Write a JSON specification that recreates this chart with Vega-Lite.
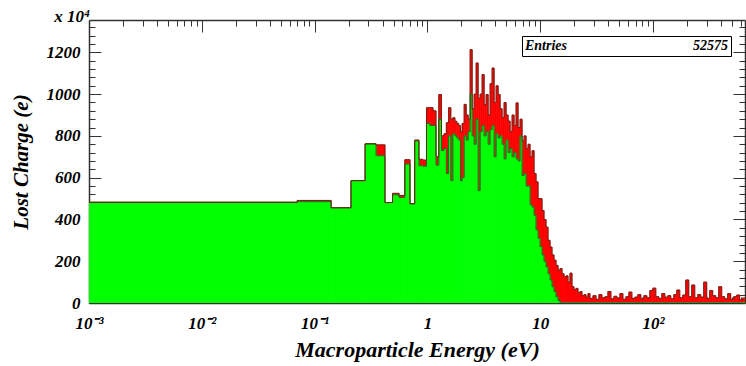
{
  "$schema": "https://vega.github.io/schema/vega-lite/v6.json",
  "width": 656,
  "height": 283,
  "autosize": {"type": "none"},
  "padding": {"left": 89, "top": 20, "right": 1, "bottom": 63},
  "background": "white",
  "title": {"text": "x 10⁴", "anchor": "start", "frame": "group", "align": "right", "dx": 1, "offset": -23, "baseline": "bottom", "font": "Liberation Serif", "fontSize": 17, "fontWeight": "bold", "fontStyle": "italic", "color": "black"},
  "config": {"view": {"stroke": null}},
  "datasets": {
    "hist": [
      {"lo":0.001,"hi":0.07,"g":482,"t":482},
      {"lo":0.07,"hi":0.14,"g":485,"t":491},
      {"lo":0.14,"hi":0.21,"g":456,"t":456},
      {"lo":0.21,"hi":0.28,"g":586,"t":586},
      {"lo":0.28,"hi":0.35,"g":762,"t":762},
      {"lo":0.35,"hi":0.42,"g":705,"t":757},
      {"lo":0.42,"hi":0.49,"g":481,"t":481},
      {"lo":0.49,"hi":0.56,"g":518,"t":525},
      {"lo":0.56,"hi":0.63,"g":505,"t":515},
      {"lo":0.63,"hi":0.70,"g":665,"t":686},
      {"lo":0.70,"hi":0.77,"g":475,"t":475},
      {"lo":0.77,"hi":0.84,"g":776,"t":780},
      {"lo":0.84,"hi":0.91,"g":657,"t":688},
      {"lo":0.91,"hi":0.98,"g":655,"t":684},
      {"lo":0.98,"hi":1.05,"g":860,"t":935},
      {"lo":1.05,"hi":1.12,"g":850,"t":935},
      {"lo":1.12,"hi":1.19,"g":850,"t":920},
      {"lo":1.19,"hi":1.26,"g":660,"t":700},
      {"lo":1.26,"hi":1.33,"g":880,"t":998},
      {"lo":1.33,"hi":1.40,"g":730,"t":800},
      {"lo":1.40,"hi":1.47,"g":740,"t":810},
      {"lo":1.47,"hi":1.54,"g":620,"t":863},
      {"lo":1.54,"hi":1.61,"g":800,"t":935},
      {"lo":1.61,"hi":1.68,"g":586,"t":880},
      {"lo":1.68,"hi":1.75,"g":810,"t":887},
      {"lo":1.75,"hi":1.82,"g":800,"t":870},
      {"lo":1.82,"hi":1.89,"g":790,"t":860},
      {"lo":1.89,"hi":1.96,"g":780,"t":850},
      {"lo":1.96,"hi":2.03,"g":586,"t":820},
      {"lo":2.03,"hi":2.114,"g":600,"t":860},
      {"lo":2.114,"hi":2.202,"g":800,"t":951},
      {"lo":2.202,"hi":2.294,"g":780,"t":900},
      {"lo":2.294,"hi":2.389,"g":820,"t":880},
      {"lo":2.389,"hi":2.489,"g":1000,"t":1213},
      {"lo":2.489,"hi":2.592,"g":800,"t":930},
      {"lo":2.592,"hi":2.700,"g":760,"t":1000},
      {"lo":2.700,"hi":2.812,"g":880,"t":1149},
      {"lo":2.812,"hi":2.929,"g":538,"t":980},
      {"lo":2.929,"hi":3.051,"g":820,"t":1000},
      {"lo":3.051,"hi":3.178,"g":850,"t":1094},
      {"lo":3.178,"hi":3.310,"g":800,"t":950},
      {"lo":3.310,"hi":3.448,"g":820,"t":998},
      {"lo":3.448,"hi":3.591,"g":760,"t":900},
      {"lo":3.591,"hi":3.740,"g":830,"t":1050},
      {"lo":3.740,"hi":3.896,"g":850,"t":1125},
      {"lo":3.896,"hi":4.058,"g":700,"t":960},
      {"lo":4.058,"hi":4.227,"g":810,"t":1040},
      {"lo":4.227,"hi":4.403,"g":790,"t":998},
      {"lo":4.403,"hi":4.586,"g":800,"t":930},
      {"lo":4.586,"hi":4.777,"g":760,"t":887},
      {"lo":4.777,"hi":4.975,"g":690,"t":960},
      {"lo":4.975,"hi":5.182,"g":780,"t":900},
      {"lo":5.182,"hi":5.398,"g":720,"t":871},
      {"lo":5.398,"hi":5.622,"g":740,"t":820},
      {"lo":5.622,"hi":5.856,"g":700,"t":900},
      {"lo":5.856,"hi":6.100,"g":720,"t":850},
      {"lo":6.100,"hi":6.353,"g":690,"t":958},
      {"lo":6.353,"hi":6.618,"g":680,"t":840},
      {"lo":6.618,"hi":6.893,"g":800,"t":880},
      {"lo":6.893,"hi":7.180,"g":610,"t":776},
      {"lo":7.180,"hi":7.478,"g":620,"t":800},
      {"lo":7.478,"hi":7.789,"g":560,"t":740},
      {"lo":7.789,"hi":8.113,"g":560,"t":760},
      {"lo":8.113,"hi":8.451,"g":470,"t":700},
      {"lo":8.451,"hi":8.802,"g":459,"t":729},
      {"lo":8.802,"hi":9.168,"g":420,"t":620},
      {"lo":9.168,"hi":9.550,"g":350,"t":580},
      {"lo":9.550,"hi":9.947,"g":310,"t":500},
      {"lo":9.947,"hi":10.36,"g":270,"t":500},
      {"lo":10.36,"hi":10.79,"g":230,"t":443},
      {"lo":10.79,"hi":11.24,"g":200,"t":400},
      {"lo":11.24,"hi":11.71,"g":173,"t":363},
      {"lo":11.71,"hi":12.20,"g":140,"t":300},
      {"lo":12.20,"hi":12.70,"g":110,"t":268},
      {"lo":12.70,"hi":13.23,"g":78,"t":230},
      {"lo":13.23,"hi":13.78,"g":55,"t":205},
      {"lo":13.78,"hi":14.36,"g":30,"t":180},
      {"lo":14.36,"hi":14.95,"g":12,"t":157},
      {"lo":14.95,"hi":15.58,"g":0,"t":165},
      {"lo":15.58,"hi":16.23,"g":0,"t":140},
      {"lo":16.23,"hi":16.90,"g":0,"t":125},
      {"lo":16.90,"hi":17.60,"g":0,"t":130},
      {"lo":17.60,"hi":18.33,"g":0,"t":100},
      {"lo":18.33,"hi":19.10,"g":0,"t":143},
      {"lo":19.10,"hi":19.89,"g":0,"t":78},
      {"lo":19.89,"hi":20.72,"g":0,"t":65},
      {"lo":20.72,"hi":21.58,"g":0,"t":70},
      {"lo":21.58,"hi":22.48,"g":0,"t":48},
      {"lo":22.48,"hi":23.41,"g":0,"t":55},
      {"lo":23.41,"hi":24.38,"g":0,"t":35},
      {"lo":24.38,"hi":25.40,"g":0,"t":40},
      {"lo":25.40,"hi":26.45,"g":0,"t":28},
      {"lo":26.45,"hi":27.55,"g":0,"t":45},
      {"lo":27.55,"hi":29.29,"g":0,"t":22},
      {"lo":29.29,"hi":31.13,"g":0,"t":35},
      {"lo":31.13,"hi":33.09,"g":0,"t":18},
      {"lo":33.09,"hi":35.18,"g":0,"t":40},
      {"lo":35.18,"hi":37.39,"g":0,"t":25},
      {"lo":37.39,"hi":39.75,"g":0,"t":30},
      {"lo":39.75,"hi":42.25,"g":0,"t":55},
      {"lo":42.25,"hi":44.91,"g":0,"t":20},
      {"lo":44.91,"hi":47.74,"g":0,"t":32},
      {"lo":47.74,"hi":50.75,"g":0,"t":24},
      {"lo":50.75,"hi":53.95,"g":0,"t":45},
      {"lo":53.95,"hi":57.35,"g":0,"t":18},
      {"lo":57.35,"hi":60.96,"g":0,"t":30},
      {"lo":60.96,"hi":64.80,"g":0,"t":52},
      {"lo":64.80,"hi":68.88,"g":0,"t":22},
      {"lo":68.88,"hi":73.22,"g":0,"t":28},
      {"lo":73.22,"hi":77.83,"g":0,"t":40},
      {"lo":77.83,"hi":82.74,"g":0,"t":20},
      {"lo":82.74,"hi":87.95,"g":0,"t":35},
      {"lo":87.95,"hi":93.49,"g":0,"t":25},
      {"lo":93.49,"hi":99.38,"g":0,"t":60},
      {"lo":99.38,"hi":105.6,"g":0,"t":71},
      {"lo":105.6,"hi":112.3,"g":0,"t":30},
      {"lo":112.3,"hi":119.4,"g":0,"t":22},
      {"lo":119.4,"hi":126.9,"g":0,"t":45},
      {"lo":126.9,"hi":134.9,"g":0,"t":28},
      {"lo":134.9,"hi":143.4,"g":0,"t":35},
      {"lo":143.4,"hi":152.4,"g":0,"t":20},
      {"lo":152.4,"hi":162.0,"g":0,"t":40},
      {"lo":162.0,"hi":172.2,"g":0,"t":62},
      {"lo":172.2,"hi":183.1,"g":0,"t":25},
      {"lo":183.1,"hi":194.6,"g":0,"t":38},
      {"lo":194.6,"hi":206.9,"g":0,"t":110},
      {"lo":206.9,"hi":219.9,"g":0,"t":30},
      {"lo":219.9,"hi":233.8,"g":0,"t":86},
      {"lo":233.8,"hi":248.5,"g":0,"t":25},
      {"lo":248.5,"hi":264.2,"g":0,"t":40},
      {"lo":264.2,"hi":280.8,"g":0,"t":28},
      {"lo":280.8,"hi":298.5,"g":0,"t":100},
      {"lo":298.5,"hi":317.3,"g":0,"t":22},
      {"lo":317.3,"hi":337.3,"g":0,"t":60},
      {"lo":337.3,"hi":358.6,"g":0,"t":35},
      {"lo":358.6,"hi":381.2,"g":0,"t":25},
      {"lo":381.2,"hi":405.2,"g":0,"t":78},
      {"lo":405.2,"hi":430.7,"g":0,"t":30},
      {"lo":430.7,"hi":457.8,"g":0,"t":20},
      {"lo":457.8,"hi":486.7,"g":0,"t":45},
      {"lo":486.7,"hi":517.3,"g":0,"t":18},
      {"lo":517.3,"hi":549.9,"g":0,"t":30},
      {"lo":549.9,"hi":584.6,"g":0,"t":38},
      {"lo":584.6,"hi":621.4,"g":0,"t":15},
      {"lo":621.4,"hi":660.5,"g":0,"t":25}
    ]
  },
  "data": {"name": "hist"},
  "layer": [
    {
      "mark": {"type": "rect", "color": "#ff0000", "stroke": "#ff0000", "strokeWidth": 0.6, "clip": true},
      "encoding": {
        "x": {"field": "lo", "type": "quantitative",
              "scale": {"type": "log", "domain": [0.001, 652], "nice": false},
              "axis": {"orient": "bottom", "values": [0.001, 0.01, 0.1, 1, 10, 100],
                       "labelExpr": "datum.value < 0.005 ? '10⁻³' : datum.value < 0.05 ? '10⁻²' : datum.value < 0.5 ? '10⁻¹' : datum.value < 5 ? '1' : datum.value < 50 ? '10' : '10²'",
                       "tickSize": -12, "tickColor": "#333", "tickWidth": 1,
                       "domainColor": "#333", "domainWidth": 1.5,
                       "labelPadding": 24, "labelFont": "Liberation Serif", "labelFontSize": 17, "labelFontWeight": "bold", "labelFontStyle": "italic", "labelColor": "black", "labelFlush": false, "labelOverlap": false,
                       "title": "Macroparticle Energy (eV)", "titleFont": "Liberation Serif", "titleFontSize": 22, "titleFontWeight": "bold", "titleFontStyle": "italic", "titleColor": "black", "titlePadding": 8, "grid": false}},
        "x2": {"field": "hi"},
        "y": {"field": "t", "type": "quantitative",
              "scale": {"domain": [0, 1355], "nice": false},
              "axis": {"orient": "left", "values": [0, 200, 400, 600, 800, 1000, 1200], "format": "d",
                       "tickSize": -12, "tickColor": "#333", "tickWidth": 1,
                       "domainColor": "#333", "domainWidth": 1.5,
                       "labelPadding": 21, "labelFont": "Liberation Serif", "labelFontSize": 17, "labelFontWeight": "bold", "labelFontStyle": "italic", "labelColor": "black", "labelOverlap": false,
                       "title": "Lost Charge (e)", "titleFont": "Liberation Serif", "titleFontSize": 21, "titleFontWeight": "bold", "titleFontStyle": "italic", "titleColor": "black", "titlePadding": 15, "grid": false}},
        "y2": {"field": "g"}
      }
    },
    {
      "mark": {"type": "rect", "stroke": "#00ff00", "strokeWidth": 0.8, "clip": true},
      "encoding": {
        "x": {"field": "lo", "type": "quantitative",
              "scale": {"type": "log", "domain": [0.001, 652], "nice": false},
              "axis": {"orient": "bottom", "values": [0.002,0.003,0.004,0.005,0.006,0.007,0.008,0.009,0.02,0.03,0.04,0.05,0.06,0.07,0.08,0.09,0.2,0.3,0.4,0.5,0.6,0.7,0.8,0.9,2,3,4,5,6,7,8,9,20,30,40,50,60,70,80,90,200,300,400,500,600],
                       "tickSize": -6, "tickColor": "#333", "tickWidth": 1, "domain": false, "labels": false, "title": null, "grid": false}},
        "x2": {"field": "hi"},
        "y": {"field": "g", "type": "quantitative",
              "scale": {"domain": [0, 1355], "nice": false},
              "axis": {"orient": "left", "values": [40,80,120,160,240,280,320,360,440,480,520,560,640,680,720,760,840,880,920,960,1040,1080,1120,1160,1240,1280,1320],
                       "tickSize": -6, "tickColor": "#333", "tickWidth": 1, "domain": false, "labels": false, "title": null, "grid": false}},
        "y2": {"datum": 0},
        "color": {"datum": "52575", "type": "nominal",
                  "scale": {"range": ["#00ff00"]},
                  "legend": {"title": "Entries", "orient": "none", "legendX": 433, "legendY": 16, "titleOrient": "left",
                             "titleFont": "Liberation Serif", "titleFontSize": 14, "titleFontWeight": "bold", "titleFontStyle": "italic", "titleColor": "black",
                             "labelFont": "Liberation Serif", "labelFontSize": 14, "labelFontWeight": "bold", "labelFontStyle": "italic", "labelColor": "black",
                             "symbolSize": 0, "symbolOpacity": 0, "symbolStrokeWidth": 0, "labelOffset": 0,
                             "titlePadding": 111, "padding": 3, "strokeColor": "black", "fillColor": "white"}}
      }
    },
    {
      "mark": {"type": "line", "interpolate": "step-after", "color": "#2b5e2b", "strokeWidth": 1, "clip": true},
      "encoding": {
        "x": {"field": "lo", "type": "quantitative",
              "scale": {"type": "log", "domain": [0.001, 652], "nice": false},
              "axis": {"orient": "top", "values": [0.001, 0.01, 0.1, 1, 10, 100],
                       "tickSize": -12, "tickColor": "#333", "tickWidth": 1, "domainColor": "#333", "domainWidth": 1.5, "labels": false, "title": null, "grid": false}},
        "y": {"field": "g", "type": "quantitative",
              "scale": {"domain": [0, 1355], "nice": false},
              "axis": {"orient": "right", "values": [0, 200, 400, 600, 800, 1000, 1200],
                       "tickSize": -12, "tickColor": "#333", "tickWidth": 1, "domainColor": "#333", "domainWidth": 1.5, "labels": false, "title": null, "grid": false}}
      }
    },
    {
      "mark": {"type": "line", "interpolate": "step-after", "color": "#6e2418", "strokeWidth": 1, "clip": true},
      "encoding": {
        "x": {"field": "lo", "type": "quantitative",
              "scale": {"type": "log", "domain": [0.001, 652], "nice": false},
              "axis": {"orient": "top", "values": [0.002,0.003,0.004,0.005,0.006,0.007,0.008,0.009,0.02,0.03,0.04,0.05,0.06,0.07,0.08,0.09,0.2,0.3,0.4,0.5,0.6,0.7,0.8,0.9,2,3,4,5,6,7,8,9,20,30,40,50,60,70,80,90,200,300,400,500,600],
                       "tickSize": -6, "tickColor": "#333", "tickWidth": 1, "domain": false, "labels": false, "title": null, "grid": false}},
        "y": {"field": "t", "type": "quantitative",
              "scale": {"domain": [0, 1355], "nice": false},
              "axis": {"orient": "right", "values": [40,80,120,160,240,280,320,360,440,480,520,560,640,680,720,760,840,880,920,960,1040,1080,1120,1160,1240,1280,1320],
                       "tickSize": -6, "tickColor": "#333", "tickWidth": 1, "domain": false, "labels": false, "title": null, "grid": false}}
      }
    }
  ],
  "resolve": {"axis": {"x": "independent", "y": "independent"}}
}
